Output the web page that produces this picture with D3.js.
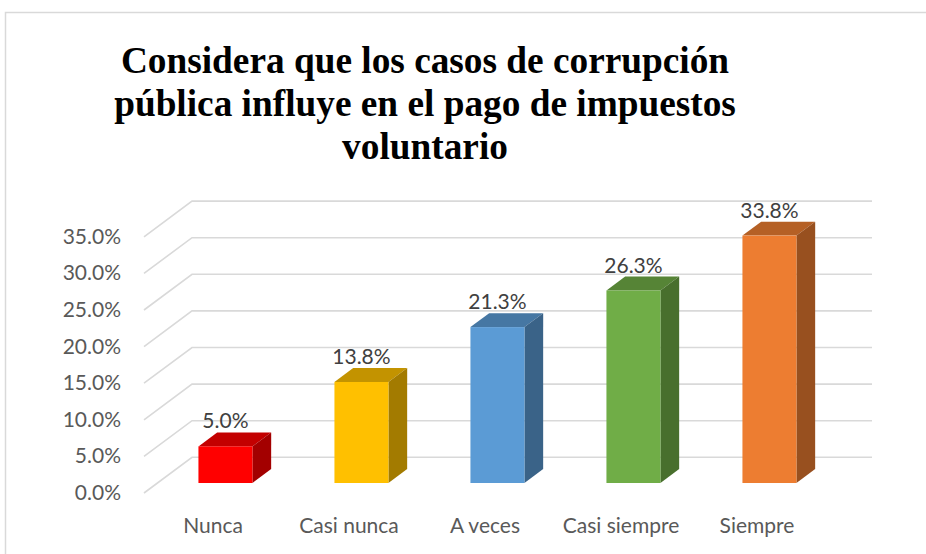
<!DOCTYPE html>
<html>
<head>
<meta charset="utf-8">
<script src="https://cdn.jsdelivr.net/npm/d3@7"></script>
<style>
  html, body { margin: 0; padding: 0; background: #fff; }
</style>
</head>
<body>
<div id="chart"></div>
<script>
// datos
var categorias = ["Nunca", "Casi nunca", "A veces", "Casi siempre", "Siempre"];
var valores = [5.0, 13.8, 21.3, 26.3, 33.8];
var ticks = [0, 5, 10, 15, 20, 25, 30, 35];
var colores = ["#FF0000", "#FFC000", "#5B9BD5", "#70AD47", "#ED7D31"];
var titulo = ["Considera que los casos de corrupción", "pública influye en el pago de impuestos", "voluntario"];

var width = 926;
var height = 554;
var svg = d3.select("#chart").append("svg")
  .attr("width", width)
  .attr("height", height);

// borde del gráfico
svg.append("rect")
  .attr("x", 5.5).attr("y", 12.5)
  .attr("width", 940).attr("height", 560)
  .attr("fill", "none")
  .attr("stroke", "#d9d9d9")
  .attr("stroke-width", 1.5);

// titulo
svg.append("text")
  .attr("text-anchor", "middle")
  .attr("font-family", "'Liberation Serif', 'Times New Roman', serif")
  .attr("font-weight", "bold")
  .attr("font-size", 37.3)
  .attr("fill", "#000")
  .selectAll("tspan")
  .data(titulo)
  .enter()
  .append("tspan")
  .attr("x", 425)
  .attr("y", function(d, i) { return 73 + i * 43; })
  .text(function(d) { return d; });

// perspectiva 3D
var depthX = 48, depthY = 35.7;   // desplazamiento del fondo
var x = d3.scaleBand().domain(categorias).range([144, 824]);
var y = d3.scaleLinear().domain([0, 35]).range([493, 236.8]);
function px(xv, d) { return xv + d * depthX; }
function py(v, d) { return y(v) - d * depthY; }

// rejilla: pared lateral y pared de fondo
var grid = svg.append("g")
  .attr("stroke", "#d9d9d9")
  .attr("stroke-width", 1.6)
  .attr("fill", "none");
grid.selectAll("path")
  .data(ticks)
  .enter()
  .append("path")
  .attr("d", function(t) {
    return "M" + px(144, 0) + "," + py(t, 0) +
      "L" + px(144, 1) + "," + py(t, 1) +
      "L" + px(824, 1) + "," + py(t, 1);
  });

// etiquetas eje y
svg.append("g")
  .attr("font-family", "Lato, 'Open Sans', sans-serif")
  .attr("font-size", 21)
  .attr("fill", "#595959")
  .attr("text-anchor", "end")
  .selectAll("text")
  .data(ticks)
  .enter()
  .append("text")
  .attr("x", 121)
  .attr("y", function(t) { return y(t) + 7; })
  .text(function(t) { return t.toFixed(1) + "%"; });

// etiquetas categorias
svg.append("g")
  .attr("font-family", "Lato, 'Open Sans', sans-serif")
  .attr("font-size", 21)
  .attr("fill", "#595959")
  .attr("text-anchor", "middle")
  .selectAll("text")
  .data(categorias)
  .enter()
  .append("text")
  .attr("x", function(d) { return x(d) + x.bandwidth() / 2 + 1; })
  .attr("y", 533)
  .text(function(d) { return d; });

// barras 3D
var d0 = 0.28, d1 = 0.67;
var bw = 54;
var barras = svg.append("g")
  .selectAll("g")
  .data(valores)
  .enter()
  .append("g");

function xl(i) { return x(categorias[i]) + x.bandwidth() / 2 - bw / 2; }

// cara superior
barras.append("path")
  .attr("fill", function(d, i) { return d3.color(colores[i]).darker(0.75); })
  .attr("d", function(d, i) {
    var a = xl(i), b = a + bw;
    return "M" + px(a, d0) + "," + py(d, d0) +
      "L" + px(a, d1) + "," + py(d, d1) +
      "L" + px(b, d1) + "," + py(d, d1) +
      "L" + px(b, d0) + "," + py(d, d0) + "Z";
  });

// cara lateral
barras.append("path")
  .attr("fill", function(d, i) { return d3.color(colores[i]).darker(1.25); })
  .attr("d", function(d, i) {
    var b = xl(i) + bw;
    return "M" + px(b, d0) + "," + py(d, d0) +
      "L" + px(b, d1) + "," + py(d, d1) +
      "L" + px(b, d1) + "," + py(0, d1) +
      "L" + px(b, d0) + "," + py(0, d0) + "Z";
  });

// cara frontal
barras.append("rect")
  .attr("fill", function(d, i) { return colores[i]; })
  .attr("x", function(d, i) { return px(xl(i), d0); })
  .attr("y", function(d) { return py(d, d0); })
  .attr("width", bw)
  .attr("height", function(d) { return py(0, d0) - py(d, d0); });

// etiquetas de valor
barras.append("text")
  .attr("font-family", "Lato, 'Open Sans', sans-serif")
  .attr("font-size", 21)
  .attr("fill", "#404040")
  .attr("text-anchor", "middle")
  .attr("x", function(d, i) { return px(xl(i), d0) + bw / 2; })
  .attr("y", function(d) { return py(d, d1) - 4; })
  .text(function(d) { return d.toFixed(1) + "%"; });
</script>
</body>
</html>
